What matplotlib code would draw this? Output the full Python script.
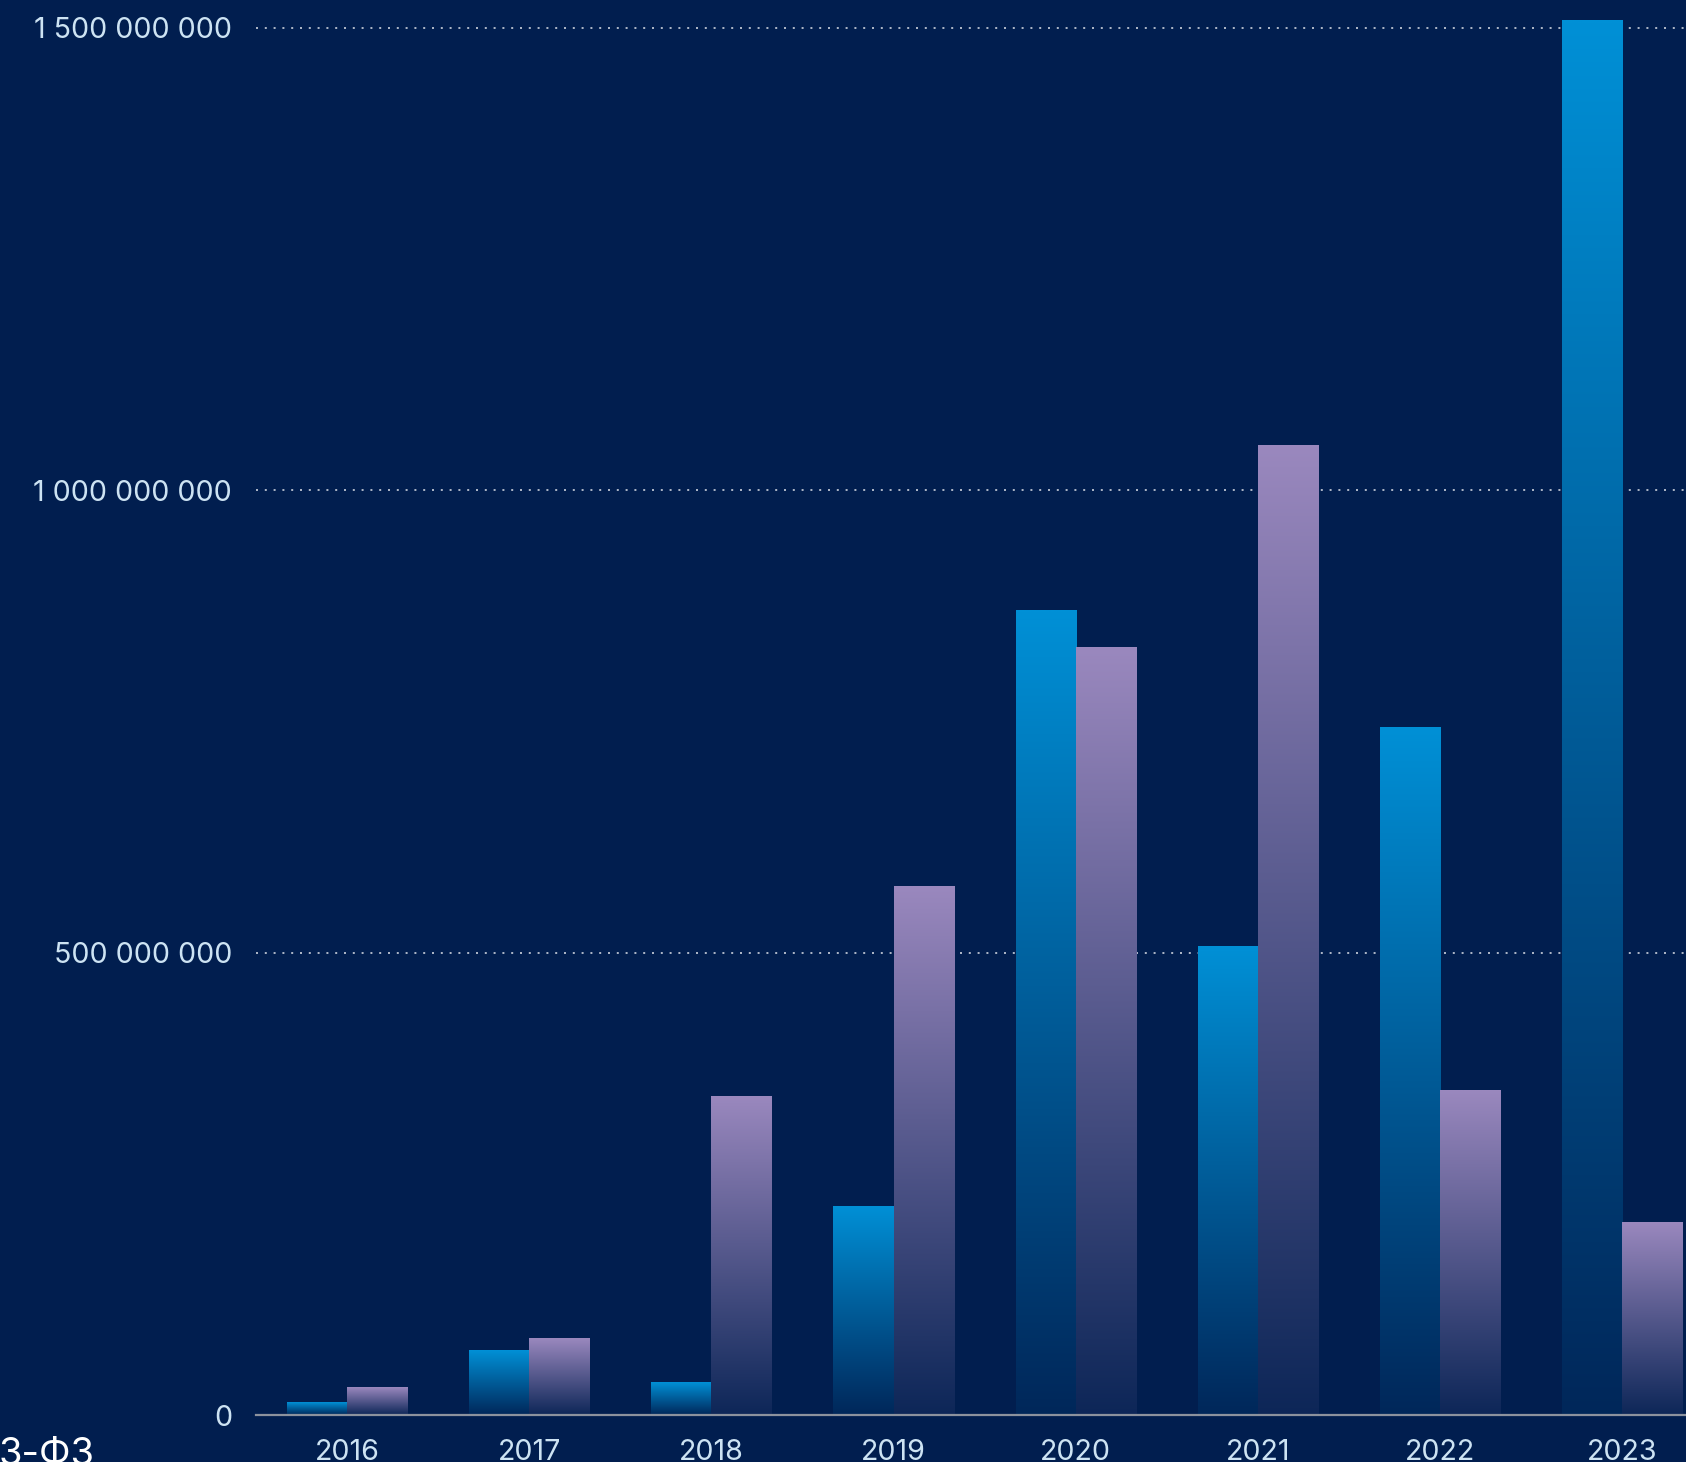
import numpy as np
import matplotlib.pyplot as plt
from matplotlib.colors import to_rgb

years = ["2016", "2017", "2018", "2019", "2020", "2021", "2022", "2023"]
blue_values = [13e6, 70e6, 35e6, 225e6, 870e6, 507e6, 744e6, 1508e6]
purple_values = [30e6, 83e6, 344e6, 571e6, 830e6, 1048e6, 351e6, 208e6]
y_ticks = [0, 500e6, 1000e6, 1500e6]
y_tick_labels = ["0", "500 000 000", "1 000 000 000", "1 500 000 000"]

bg = "#011e4f"
blue = "#0090d6"
purple = "#9a88be"
tick_color = "#cde3f3"

plt.rcParams["font.family"] = ["Inter", "DejaVu Sans"]


def gradient_fill(ax, bars, color):
    # vertical gradient: full colour at top, fading to background at bottom
    top = np.array(to_rgb(color))
    bottom = np.array(to_rgb(bg)) * 0.92 + top * 0.08
    t = np.linspace(0, 1, 256)[:, None]
    img = (top * (1 - t) + bottom * t)[:, None, :]
    for rect in bars:
        x0 = rect.get_x()
        w = rect.get_width()
        h = rect.get_height()
        ax.imshow(img, extent=[x0, x0 + w, 0, h], origin="upper",
                  aspect="auto", zorder=3, interpolation="bilinear")
        rect.set_visible(False)


fig = plt.figure(figsize=(16.86, 14.62), dpi=100, facecolor=bg)
ax = fig.add_axes([256 / 1686, 47 / 1462, 1 - 256 / 1686, 1415 / 1462])
ax.set_facecolor(bg)

x = np.arange(len(years))
w = 0.33
bars_blue = ax.bar(x - w / 2, blue_values, width=w, color=blue)
bars_purple = ax.bar(x + w / 2, purple_values, width=w, color=purple)
gradient_fill(ax, bars_blue, blue)
gradient_fill(ax, bars_purple, purple)

ax.set_xlim(-0.5, 7.35)
ax.set_ylim(0, 1.5302e9)

ax.set_yticks(y_ticks)
ax.set_yticklabels(y_tick_labels)
ax.yaxis.grid(True, color="#aab3c4", linestyle=(0, (1, 3.4)), linewidth=1.44, zorder=1)
ax.set_axisbelow(True)

ax.set_xticks(x)
ax.set_xticklabels(years)
ax.tick_params(axis="both", length=0, labelsize=20.6, labelcolor=tick_color)
ax.tick_params(axis="y", pad=17.3)
ax.tick_params(axis="x", pad=17)

for s in ["top", "right", "left"]:
    ax.spines[s].set_visible(False)
ax.spines["bottom"].set_color("#8c929e")
ax.spines["bottom"].set_linewidth(1.6)
ax.spines["bottom"].set_zorder(4)

fig.text(-1 / 1686, -3 / 1462, "3-ФЗ", ha="left", va="baseline",
         fontsize=27.5, color="white")

fig.savefig("out.png", dpi=100, facecolor=bg)
